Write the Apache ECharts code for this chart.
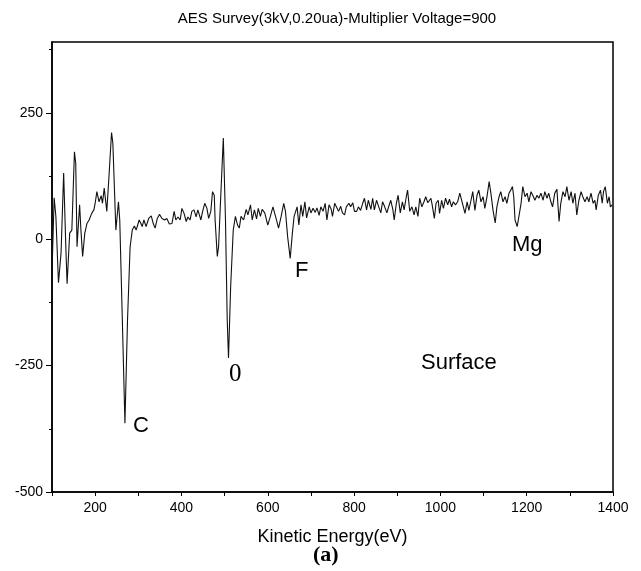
<!DOCTYPE html>
<html>
<head>
<meta charset="utf-8">
<script src="https://cdn.jsdelivr.net/npm/echarts@6/dist/echarts.min.js"></script>
<style>
  html, body { margin: 0; padding: 0; background: #fff; }
  #chart { width: 641px; height: 571px; }
</style>
</head>
<body>
<div id="chart"></div>
<script>
// kinetic energy (eV) and signal
const energy = [
  100, 105, 109, 115, 121, 127, 132, 135, 141, 146, 152, 155, 158, 164, 167, 171, 176, 181, 186, 192,
  197, 200, 204, 209, 214, 217, 221, 227, 232, 238, 241, 248, 254, 257, 263, 269, 275, 281, 286, 291,
  295, 302, 306, 309, 313, 318, 324, 330, 335, 339, 344, 349, 355, 361, 366, 372, 378, 383, 387, 392,
  397, 401, 406, 411, 415, 420, 424, 429, 434, 438, 445, 449, 454, 459, 463, 468, 472, 476, 478, 483,
  486, 492, 497, 502, 506, 509, 514, 520, 525, 530, 534, 538, 544, 550, 554, 560, 564, 569, 574, 578,
  583, 587, 593, 600, 606, 612, 618, 625, 631, 637, 641, 646, 652, 657, 661, 668, 672, 677, 681, 686,
  690, 696, 700, 705, 710, 714, 719, 723, 728, 733, 737, 742, 747, 750, 755, 759, 764, 769, 773, 778,
  782, 788, 792, 797, 801, 806, 810, 815, 820, 824, 829, 833, 839, 843, 847, 852, 856, 862, 866, 871,
  876, 880, 885, 890, 893, 898, 902, 907, 912, 916, 921, 924, 929, 934, 939, 943, 948, 952, 957, 962,
  966, 971, 974, 978, 981, 986, 990, 995, 998, 1003, 1007, 1012, 1017, 1021, 1026, 1030, 1035, 1040, 1045, 1049,
  1052, 1057, 1062, 1066, 1071, 1075, 1080, 1085, 1089, 1094, 1099, 1103, 1108, 1113, 1117, 1122, 1127, 1131, 1136, 1140,
  1145, 1150, 1154, 1159, 1163, 1167, 1170, 1173, 1178, 1182, 1187, 1191, 1196, 1201, 1205, 1210, 1214, 1219, 1224, 1228,
  1233, 1238, 1242, 1247, 1251, 1256, 1260, 1265, 1270, 1275, 1279, 1284, 1289, 1293, 1298, 1303, 1307, 1312, 1316, 1321,
  1326, 1330, 1335, 1340, 1344, 1349, 1354, 1358, 1361, 1366, 1371, 1375, 1378, 1382, 1387, 1391, 1394, 1398
];
const signal = [
  -67, 82, 45, -86, -27, 131, -15, -88, 12, 18, 173, 150, -15, 68, 18, -34, 12, 31, 38, 51,
  58, 71, 94, 74, 86, 71, 101, 55, 124, 211, 190, 18, 74, 38, -160, -364, -160, -15, 18, 26,
  18, 38, 31, 25, 38, 25, 41, 46, 30, 22, 41, 49, 41, 38, 41, 30, 31, 55, 38, 44,
  38, 61, 51, 35, 44, 38, 55, 58, 44, 58, 38, 55, 71, 61, 41, 55, 94, 87, 38, -34,
  -15, 104, 200, 38, -159, -235, -94, 18, 45, 28, 22, 45, 38, 59, 48, 68, 38, 58, 40, 61,
  45, 59, 52, 28, 45, 64, 45, 22, 45, 71, 55, 5, -38, 12, 45, 64, 28, 68, 45, 74,
  42, 64, 52, 61, 53, 62, 47, 64, 55, 71, 38, 68, 59, 45, 71, 64, 55, 65, 52, 48,
  64, 71, 64, 72, 55, 55, 64, 57, 71, 81, 58, 77, 59, 81, 58, 77, 67, 52, 74, 64,
  52, 64, 77, 58, 38, 71, 87, 52, 74, 58, 84, 97, 55, 64, 48, 64, 45, 81, 64, 74,
  84, 72, 74, 81, 68, 41, 71, 77, 51, 77, 61, 81, 68, 79, 64, 74, 68, 74, 91, 91,
  68, 51, 74, 57, 77, 94, 57, 87, 97, 74, 84, 61, 84, 114, 91, 57, 32, 64, 84, 94,
  74, 84, 71, 91, 97, 104, 84, 38, 25, 28, 71, 104, 84, 91, 74, 94, 87, 77, 87, 81,
  91, 77, 94, 81, 91, 74, 64, 91, 99, 35, 71, 94, 84, 104, 77, 94, 71, 91, 48, 77,
  94, 84, 74, 84, 74, 91, 71, 77, 58, 87, 97, 71, 94, 104, 71, 84, 64, 68
];

const xTicks = [200, 400, 600, 800, 1000, 1200, 1400];
const yTicks = [-500, -250, 0, 250];
const yMinorTicks = [-375, -125, 125, 375];

const points = energy.map((e, i) => [e, signal[i]]);

const sans = "'Liberation Sans', Arial, sans-serif";
const serif = "'Liberation Serif', 'Times New Roman', serif";

const chart = echarts.init(document.getElementById('chart'));
chart.setOption({
  backgroundColor: '#fff',
  animation: false,
  title: {
    text: 'AES Survey(3kV,0.20ua)-Multiplier Voltage=900',
    left: 332,
    textAlign: 'center',
    top: 6,
    textStyle: { fontFamily: sans, fontSize: 15, fontWeight: 'normal', color: '#000' }
  },
  grid: {
    left: 52, right: 28, top: 42, bottom: 79,
    show: true, borderColor: '#000', borderWidth: 1.5,
    outerBoundsMode: 'none'
  },
  xAxis: {
    type: 'value',
    min: 100, max: 1400, interval: 100,
    name: 'Kinetic Energy(eV)',
    nameLocation: 'middle',
    nameGap: 36,
    nameTextStyle: { fontFamily: sans, fontSize: 18, color: '#000' },
    axisLine: { onZero: false, lineStyle: { color: '#000', width: 1.5 } },
    axisTick: { length: 4, lineStyle: { color: '#000' } },
    axisLabel: {
      margin: 9,
      fontFamily: sans, fontSize: 14, color: '#000',
      formatter: v => (xTicks.includes(v) ? String(v) : '')
    },
    splitLine: { show: false }
  },
  yAxis: [
    {
      type: 'value',
      min: -500, max: 390,
      axisLine: { show: true, onZero: false, lineStyle: { color: '#000', width: 1.5 } },
      axisTick: { show: true, length: 6, customValues: yTicks, lineStyle: { color: '#000' } },
      axisLabel: {
        margin: 9,
        customValues: yTicks,
        fontFamily: sans, fontSize: 14, color: '#000'
      },
      splitLine: { show: false }
    },
    {
      type: 'value',
      position: 'left',
      min: -500, max: 390,
      axisLine: { show: false, onZero: false },
      axisTick: { show: true, length: 3, customValues: yMinorTicks, lineStyle: { color: '#000' } },
      axisLabel: { show: false },
      splitLine: { show: false }
    }
  ],
  series: [
    {
      type: 'line',
      data: points,
      showSymbol: false,
      symbol: 'none',
      lineStyle: { color: '#111', width: 1.1 }
    }
  ],
  graphic: [
    { type: 'text', left: 133, top: 415, style: { text: 'C', font: '22px ' + sans, fill: '#000' } },
    { type: 'text', left: 229, top: 362, style: { text: '0', font: '25px ' + serif, fill: '#000' } },
    { type: 'text', left: 295, top: 260, style: { text: 'F', font: '22px ' + sans, fill: '#000' } },
    { type: 'text', left: 512, top: 234, style: { text: 'Mg', font: '22px ' + sans, fill: '#000' } },
    { type: 'text', left: 421, top: 352, style: { text: 'Surface', font: '22px ' + sans, fill: '#000' } },
    { type: 'text', left: 313, top: 544, style: { text: '(a)', font: 'bold 22px ' + serif, fill: '#000' } }
  ]
});
</script>
</body>
</html>
